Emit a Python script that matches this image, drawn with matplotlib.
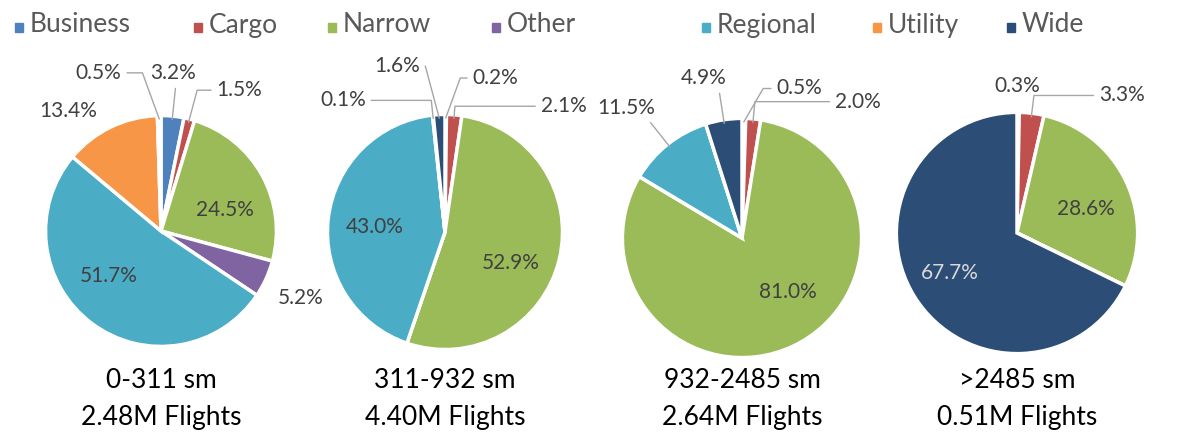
import matplotlib.pyplot as plt
import matplotlib.patches as mpatches
import numpy as np

plt.rcParams['font.family'] = ['Lato', 'DejaVu Sans']

categories = ['Business', 'Cargo', 'Narrow', 'Other', 'Regional', 'Utility', 'Wide']
colors = ['#4F81BD', '#C0504D', '#9BBB59', '#8064A2', '#4BACC6', '#F79646', '#2C4D75']

ranges = ['0-311 sm', '311-932 sm', '932-2485 sm', '>2485 sm']
flights = ['2.48M Flights', '4.40M Flights', '2.64M Flights', '0.51M Flights']

share_0_311 = [3.2, 1.5, 24.5, 5.2, 51.7, 13.4, 0.5]
share_311_932 = [0.2, 2.1, 52.9, 0.0, 43.0, 0.1, 1.6]
share_932_2485 = [0.5, 2.0, 81.0, 0.0, 11.5, 0.0, 4.9]
share_2485_up = [0.3, 3.3, 28.6, 0.0, 0.0, 0.0, 67.7]
shares = [share_0_311, share_311_932, share_932_2485, share_2485_up]

# layout: pie centre (px from top-left) and radius (px)
W, H = 1187, 438
centres = [(161, 231, 111), (445, 232, 113), (742, 238, 115), (1017, 233, 116)]

# label positions in pie units (radius = 1); leader: False = none,
# True = elbow along the slice's mid angle, number = elbow angle in degrees
label_pos = [
    [(0.10, 1.37, True), (0.68, 1.22, 75), (0.55, 0.18, False), (1.21, -0.58, False),
     (-0.45, -0.39, False), (-0.80, 1.04, False), (-0.54, 1.37, 110)],
    [(0.43, 1.31, 70), (1.01, 1.07, True), (0.56, -0.26, False), None,
     (-0.60, 0.04, False), (-0.87, 1.12, True), (-0.41, 1.41, 105)],
    [(0.48, 1.25, 60), (0.97, 1.14, True), (0.38, -0.45, False), None,
     (-0.97, 1.09, True), None, (-0.32, 1.34, True)],
    [(0.0, 1.22, False), (0.87, 1.14, True), (0.57, 0.20, False), None,
     None, None, (-0.56, -0.33, False)],
]

fig = plt.figure(figsize=(W / 100, H / 100), dpi=100)

L = 1.3
for k in range(4):
    cx, cy, r = centres[k]
    ax = fig.add_axes([(cx - L * r) / W, (H - cy - L * r) / H, 2 * L * r / W, 2 * L * r / H])
    ax.set_xlim(-L, L)
    ax.set_ylim(-L, L)
    ax.axis('off')
    wedges, _ = ax.pie(shares[k], colors=colors, startangle=90, counterclock=False,
                       radius=1.0, wedgeprops=dict(edgecolor='white', linewidth=2.5))
    for i, w in enumerate(wedges):
        pos = label_pos[k][i]
        if pos is None:
            continue
        lx, ly, leader = pos
        txt = f'{shares[k][i]:.1f}%'
        col = '#D9D9D9' if categories[i] == 'Wide' and shares[k][i] > 50 else '#404040'
        if leader is not False:
            mid = (w.theta1 + w.theta2) / 2
            ang = np.deg2rad(mid)
            angB = mid if leader is True else leader
            ax.annotate(txt, xy=(0.97 * np.cos(ang), 0.97 * np.sin(ang)), xytext=(lx, ly),
                        ha='center', va='center', fontsize=15, color=col,
                        annotation_clip=False,
                        arrowprops=dict(arrowstyle='-', color='#A6A6A6', lw=1,
                                        shrinkA=2, shrinkB=0,
                                        connectionstyle=f'angle,angleA=0,angleB={angB:.1f},rad=0'))
        else:
            ax.text(lx, ly, txt, ha='center', va='center', fontsize=15, color=col,
                    clip_on=False)
    fig.text(cx / W, 1 - 381 / H, ranges[k], ha='center', va='center', fontsize=19, color='black')
    fig.text(cx / W, 1 - 417 / H, flights[k], ha='center', va='center', fontsize=19, color='black')

# legend across the top
sq_x = [15, 194, 328, 492, 702, 873, 1007]
for i, name in enumerate(categories):
    fig.add_artist(mpatches.Rectangle((sq_x[i] / W, 1 - 32 / H), 8 / W, 9 / H,
                                      transform=fig.transFigure, color=colors[i]))
    fig.text((sq_x[i] + 15) / W, 1 - 25 / H, name, ha='left', va='center',
             fontsize=19, color='#595959')

plt.savefig('out.png', dpi=100)
